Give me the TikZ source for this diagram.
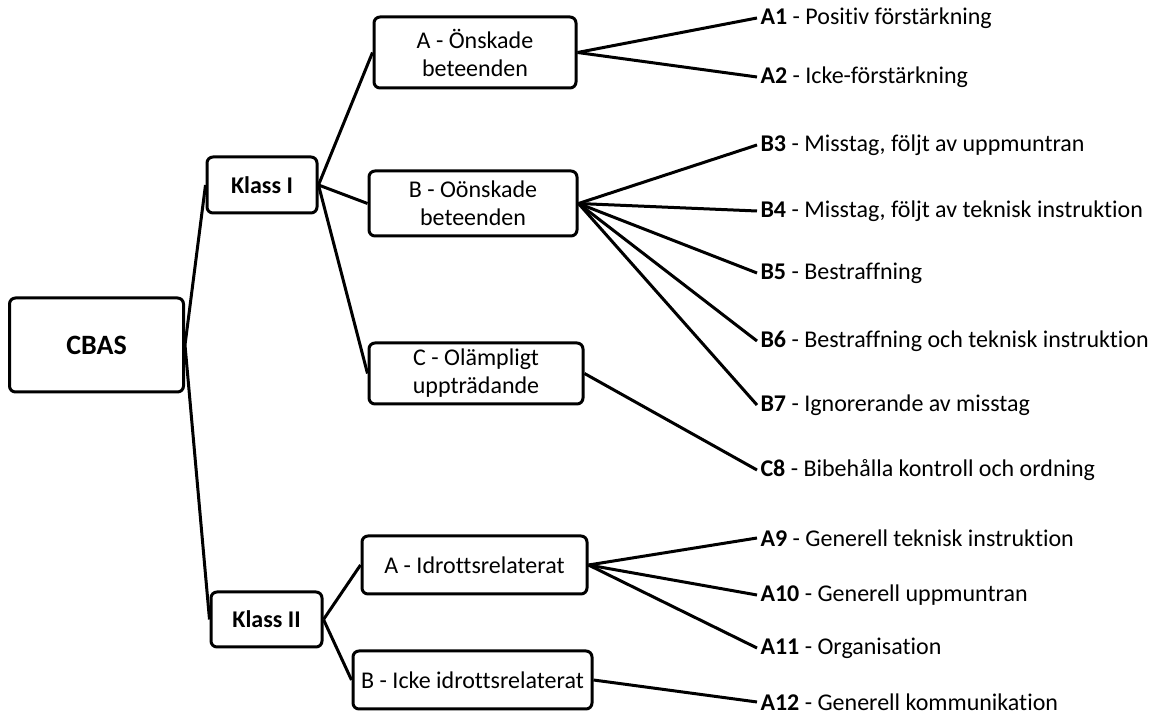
\documentclass[tikz,border=0pt]{standalone}
\usepackage{fontspec}
\setmainfont{Carlito}[Ligatures={NoCommon}]
\usepackage{tikz}
\usetikzlibrary{
        positioning,
        shapes
    }
\tikzset{box/.style={draw,line width=1.5pt,rounded corners=3pt,align=center,inner sep=1pt,font=\fontsize{12}{14}\selectfont}}
\tikzset{leaf/.style={anchor=west,inner xsep=1pt,font=\fontsize{12}{14}\selectfont}}

\begin{document}
\begin{tikzpicture}[x=0.5pt,y=-0.5pt,line width=1.5pt]
            \useasboundingbox (0,0) rectangle (1152,715);
            \node[box, minimum width=87pt, minimum height=47pt, font=\fontsize{14}{16}\selectfont] (cbas) at (96.5,345) {\textbf{CBAS}};
            \node[box, minimum width=55pt, minimum height=28pt] (klass1) at (262,185) {\textbf{Klass I}};
            \node[box, minimum width=55.5pt, minimum height=27.5pt] (klass2) at (266.5,619.5) {\textbf{Klass II}};
            \node[box, minimum width=101pt, minimum height=35.5pt] (onsk) at (475,52.5) {A - Önskade\\beteenden};
            \node[box, minimum width=104pt, minimum height=32.5pt] (oonsk) at (473,203.5) {B - Oönskade\\beteenden};
            \node[box, minimum width=107pt, minimum height=30.5pt] (olamp) at (476,373.5) {C - Olämpligt\\uppträdande};
            \node[box, minimum width=112.5pt, minimum height=29pt] (idrott) at (474.5,565) {A - Idrottsrelaterat};
            \node[box, minimum width=119.5pt, minimum height=29pt] (ickeidrott) at (472.5,680) {B - Icke idrottsrelaterat};
            \node[leaf] (a1) at (757,18)  {\textbf{A1} - Positiv förstärkning};
            \node[leaf] (a2) at (757,77)  {\textbf{A2} - Icke-förstärkning};
            \node[leaf] (b3) at (757,145) {\textbf{B3} - Misstag, följt av uppmuntran};
            \node[leaf] (b4) at (757,211) {\textbf{B4} - Misstag, följt av teknisk instruktion};
            \node[leaf] (b5) at (757,273) {\textbf{B5} - Bestraffning};
            \node[leaf] (b6) at (757,341) {\textbf{B6} - Bestraffning och teknisk instruktion};
            \node[leaf] (b7) at (757,405) {\textbf{B7} - Ignorerande av misstag};
            \node[leaf] (c8) at (757,470) {\textbf{C8} - Bibehålla kontroll och ordning};
            \node[leaf] (a9) at (757,538) {\textbf{A9} - Generell teknisk instruktion};
            \node[leaf] (a10) at (757,595) {\textbf{A10} - Generell uppmuntran};
            \node[leaf] (a11) at (757,648) {\textbf{A11} - Organisation};
            \node[leaf] (a12) at (757,702) {\textbf{A12} - Generell kommunikation};
            \path[draw, line width=1.5pt]
                (cbas.east)  edge  (klass1.west)
                (cbas.east)  edge  (klass2.west)
                (klass1.east)  edge  (onsk.west)
                (klass1.east)  edge  (oonsk.west)
                (klass1.east)  edge  (olamp.west)
                (klass2.east)  edge  (idrott.west)
                (klass2.east)  edge  (ickeidrott.west)
                (onsk.east)  edge  (a1.west)
                (onsk.east)  edge  (a2.west)
                (oonsk.east)  edge  (b3.west)
                (oonsk.east)  edge  (b4.west)
                (oonsk.east)  edge  (b5.west)
                (oonsk.east)  edge  (b6.west)
                (oonsk.east)  edge  (b7.west)
                (olamp.east)  edge  (c8.west)
                (idrott.east)  edge  (a9.west)
                (idrott.east)  edge  (a10.west)
                (idrott.east)  edge  (a11.west)
                (ickeidrott.east)  edge  (a12.west)
                ;
        \end{tikzpicture}
\end{document}
